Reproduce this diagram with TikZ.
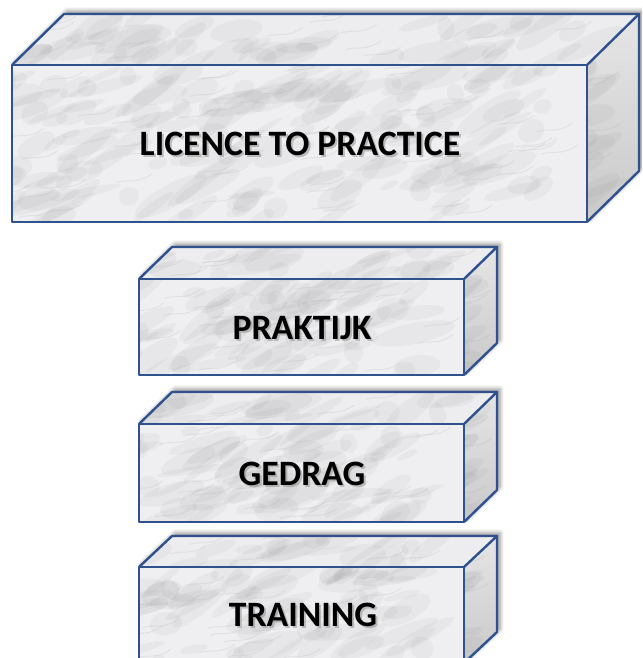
\documentclass[tikz,border=0pt]{standalone}
\usepackage{fontspec}
\setmainfont{Carlito}
\usetikzlibrary{shadows.blur}
\definecolor{edgeblue}{RGB}{47,82,143}
\definecolor{marble}{RGB}{239,239,241}
\definecolor{marbletop}{RGB}{237,237,239}
\tikzset{
  edgeline/.style={draw=edgeblue, line width=2.4pt, line join=round},
  sidefill/.style={top color=gray!20, bottom color=gray!42},
  blocklabel/.style={font=\fontsize{35.7}{40}\selectfont\bfseries, text=black, inner sep=0pt},
  labelshade/.style={font=\fontsize{35.7}{40}\selectfont\bfseries, text=gray, opacity=0.45, inner sep=0pt},
  blobstyle/.style={fill=gray, opacity=0.07},
  veinstyle/.style={draw=gray!60, opacity=0.22, line width=1pt},
  castshadow/.style={fill=white, blur shadow={shadow xshift=3pt, shadow yshift=3pt, shadow blur radius=4pt, shadow opacity=45}}
}
% random marble texture in the box (#1,#2)-(#3,#4), #5 blobs
\newcommand\veins[5]{%
  \pgfmathtruncatemacro\nblobs{#5}%
  \foreach \i in {1,...,\nblobs}{%
    \pgfmathsetmacro\px{#1+rnd*(#3-#1)}%
    \pgfmathsetmacro\py{#2+rnd*(#4-#2)}%
    \pgfmathsetmacro\rx{8+rnd*34}%
    \pgfmathsetmacro\ry{3+rnd*9}%
    \pgfmathsetmacro\ang{5+rnd*35}%
    \fill[blobstyle, rotate around={\ang:(\px,\py)}] (\px,\py) ellipse [x radius=\rx, y radius=\ry];
  }%
  \pgfmathtruncatemacro\nveins{#5/3}%
  \foreach \i in {1,...,\nveins}{%
    \pgfmathsetmacro\qx{#1+rnd*(#3-#1)}%
    \pgfmathsetmacro\qy{#2+rnd*(#4-#2)}%
    \draw[veinstyle] (\qx,\qy) .. controls ({\qx+12},{\qy-4}) and ({\qx+22},{\qy+2}) .. ({\qx+36},{\qy-9});
  }%
}
% block: #1 name, #2 x1, #3 y1 (front top), #4 x2, #5 y2 (front bottom), #6 dx, #7 dy, #8 blobs
\newcommand\mblock[8]{%
  \pgfmathsetmacro\xl{#2}\pgfmathsetmacro\yt{#3}\pgfmathsetmacro\xr{#4}\pgfmathsetmacro\yb{#5}%
  \pgfmathsetmacro\xbl{#2+#6}\pgfmathsetmacro\xbr{#4+#6}%
  \pgfmathsetmacro\ybt{#3-#7}\pgfmathsetmacro\ybb{#5-#7}%
  \pgfmathtruncatemacro\ntop{#8/3}%
  \fill[castshadow] (\xl,\yt) -- (\xbl,\ybt) -- (\xbr,\ybt) -- (\xbr,\ybb) -- (\xr,\yb) -- (\xl,\yb) -- cycle;
  % front face
  \fill[marble] (\xl,\yt) rectangle (\xr,\yb);
  \begin{scope}
    \clip (\xl,\yt) rectangle (\xr,\yb);
    \veins{\xl-20}{\yt}{\xr}{\yb}{#8}
  \end{scope}
  % top face
  \fill[marbletop] (\xl,\yt) -- (\xbl,\ybt) -- (\xbr,\ybt) -- (\xr,\yt) -- cycle;
  \begin{scope}
    \clip (\xl,\yt) -- (\xbl,\ybt) -- (\xbr,\ybt) -- (\xr,\yt) -- cycle;
    \veins{\xl-20}{\ybt}{\xbr}{\yt}{\ntop}
  \end{scope}
  % side face
  \fill[sidefill] (\xr,\yt) -- (\xbr,\ybt) -- (\xbr,\ybb) -- (\xr,\yb) -- cycle;
  \begin{scope}
    \clip (\xr,\yt) -- (\xbr,\ybt) -- (\xbr,\ybb) -- (\xr,\yb) -- cycle;
    \veins{\xr-20}{\ybt}{\xbr}{\yb}{16}
  \end{scope}
  % edges
  \draw[edgeline] (\xl,\yt) rectangle (\xr,\yb);
  \draw[edgeline] (\xl,\yt) -- (\xbl,\ybt) -- (\xbr,\ybt) -- (\xr,\yt);
  \draw[edgeline] (\xbr,\ybt) -- (\xbr,\ybb) -- (\xr,\yb);
}
\begin{document}
\begin{tikzpicture}[x=1pt,y=-1pt]
  \useasboundingbox (0,0) rectangle (642,658);
  \clip (0,0) rectangle (642,658);
  \pgfmathsetseed{7}
  \mblock{licence}{12}{65}{587}{222}{52}{51}{160}
  \mblock{praktijk}{139}{279}{464}{375}{33}{32}{70}
  \mblock{gedrag}{139}{424}{464}{522}{33}{32}{70}
  \mblock{training}{139}{567}{464}{663}{33}{31}{70}
  % labels with soft shadow
  \node[labelshade] (licS) at (302,146) {LICENCE TO PRACTICE};
  \node[blocklabel] (lic) at (300,144) {LICENCE TO PRACTICE};
  \node[labelshade] (prakS) at (304,330) {PRAKTIJK};
  \node[blocklabel] (prak) at (302,328) {PRAKTIJK};
  \node[labelshade] (gedrS) at (304,476) {GEDRAG};
  \node[blocklabel] (gedr) at (302,474) {GEDRAG};
  \node[labelshade] (trainS) at (305,617) {TRAINING};
  \node[blocklabel] (train) at (303,615) {TRAINING};
\end{tikzpicture}
\end{document}
